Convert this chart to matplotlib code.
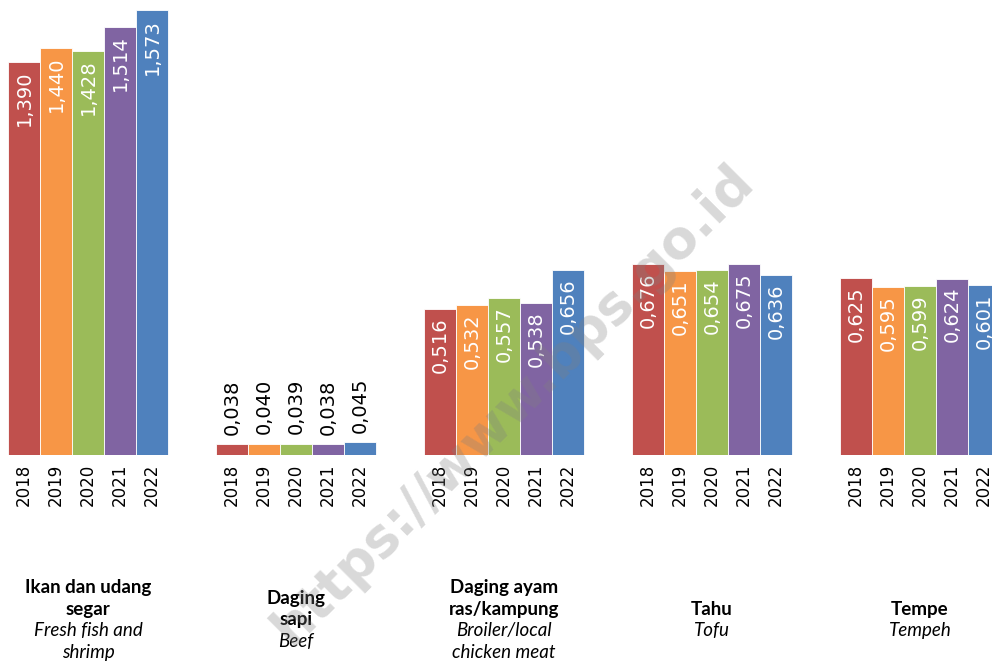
import matplotlib.pyplot as plt
from matplotlib.transforms import blended_transform_factory

years = ["2018", "2019", "2020", "2021", "2022"]
ikan = [1.390, 1.440, 1.428, 1.514, 1.573]
sapi = [0.038, 0.040, 0.039, 0.038, 0.045]
ayam = [0.516, 0.532, 0.557, 0.538, 0.656]
tahu = [0.676, 0.651, 0.654, 0.675, 0.636]
tempe = [0.625, 0.595, 0.599, 0.624, 0.601]

labels_id = [["Ikan dan udang", "segar"], ["Daging", "sapi"], ["Daging ayam", "ras/kampung"],
             ["Tahu"], ["Tempe"]]
labels_en = [["Fresh fish and", "shrimp"], ["Beef"], ["Broiler/local", "chicken meat"],
             ["Tofu"], ["Tempeh"]]

colors = ["#C0504D", "#F79646", "#9BBB59", "#8064A2", "#4F81BD"]

groups = [ikan, sapi, ayam, tahu, tempe]

fig = plt.figure(figsize=(9.92, 6.66), dpi=100)
ax = fig.add_axes([0, 0.3168, 1, 0.6832])

bw = 32 / 208
for g, vals in enumerate(groups):
    for j, v in enumerate(vals):
        x = g + (j - 2) * bw
        ax.bar(x, v, width=bw, color=colors[j], edgecolor="white", linewidth=0.6)
        txt = "{:.3f}".format(v).replace(".", ",")
        if v < 0.1:
            ax.annotate(txt, xy=(x, v), xytext=(0, 7), textcoords="offset points",
                        rotation=90, ha="center", va="bottom", fontsize=14, color="black")
        else:
            ax.annotate(txt, xy=(x, v), xytext=(0, -6), textcoords="offset points",
                        rotation=90, ha="center", va="top", fontsize=14, color="white")
        ax.annotate(years[j], xy=(x, 0), xytext=(0, -6), textcoords="offset points",
                    rotation=90, ha="center", va="top", fontsize=12, color="black",
                    annotation_clip=False)

# category labels, one line at a time, block centred below the years
trans = blended_transform_factory(ax.transData, fig.transFigure)
line_h = 15.5
for g in range(len(groups)):
    lines = [(s, "bold", "normal") for s in labels_id[g]] + [(s, "normal", "italic") for s in labels_en[g]]
    n = len(lines)
    for k, (s, w, st) in enumerate(lines):
        dy = -(k - (n - 1) / 2) * line_h
        ax.annotate(s, xy=(g, 46 / 666), xycoords=trans, xytext=(0, dy), textcoords="offset points",
                    ha="center", va="center", fontsize=13.5, fontweight=w, fontstyle=st,
                    family="Lato", annotation_clip=False)

ax.set_xlim(-88 / 208, (992 - 88) / 208)
ax.set_ylim(0, 1.610)
ax.axis("off")

fig.text(0.517, 0.392, "https://www.bps.go.id", rotation=45, ha="center", va="center",
         fontsize=38, fontweight="bold", color="gray", alpha=0.3)

fig.savefig("out.png", dpi=100)
